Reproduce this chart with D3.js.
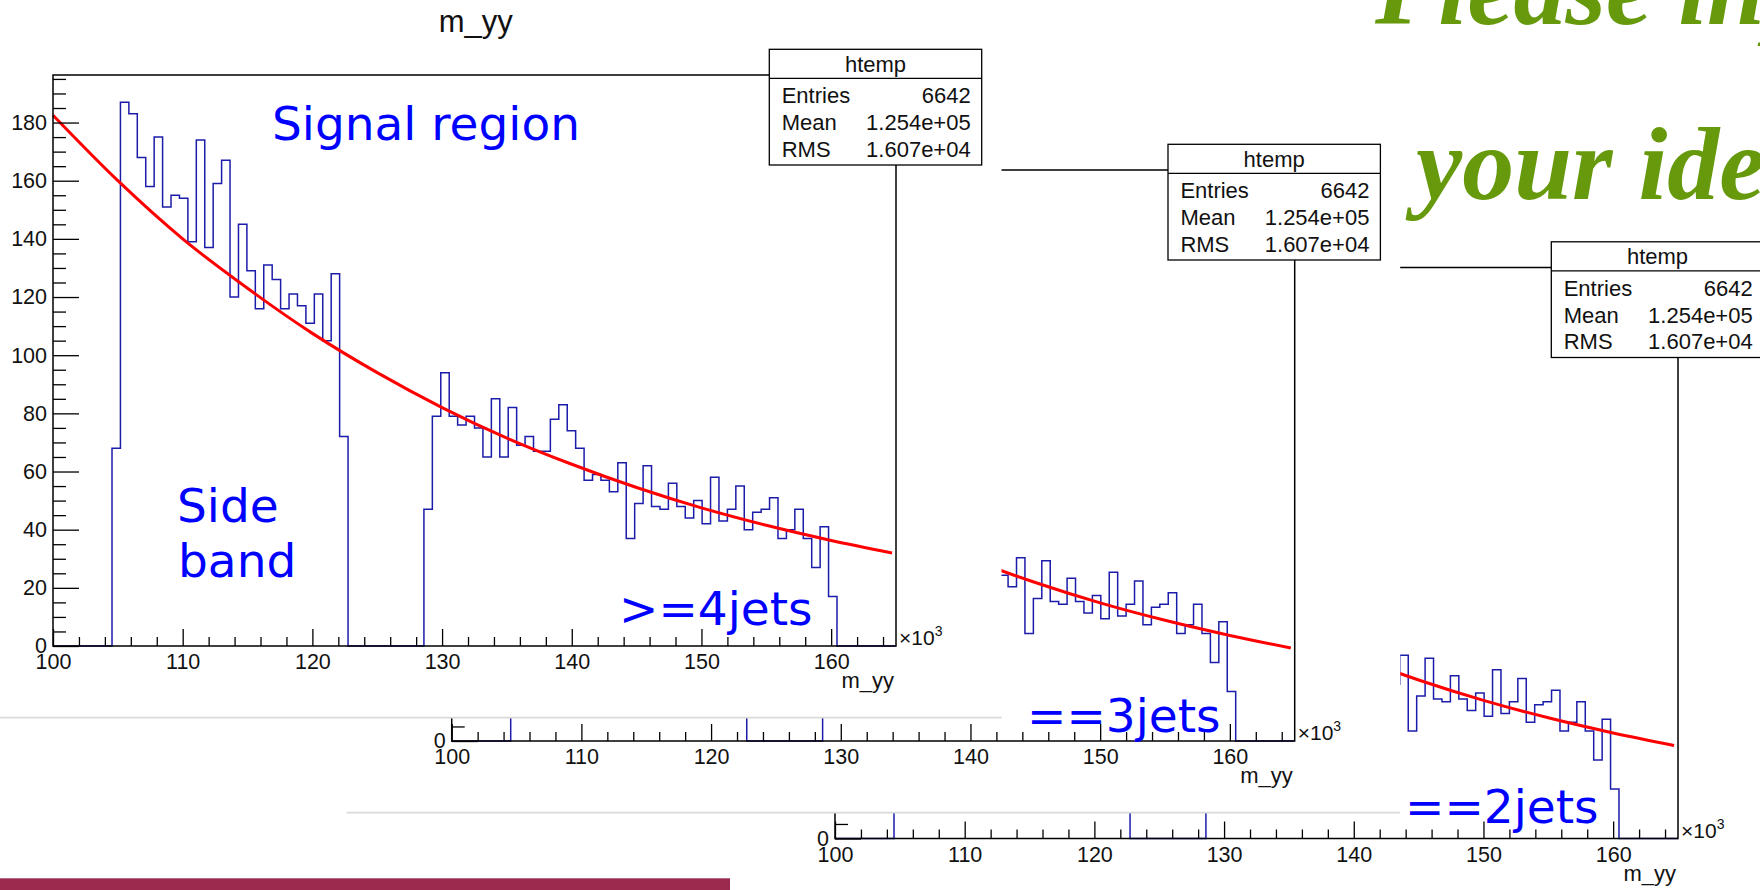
<!DOCTYPE html>
<html>
<head>
<meta charset="utf-8">
<script src="https://cdn.jsdelivr.net/npm/d3@7"></script>
<style>
  html, body { margin: 0; padding: 0; background: #fff; overflow: hidden; }
  svg { display: block; }
</style>
</head>
<body>
<svg id="slide" width="1760" height="890"></svg>
<script>
// ---- histogram "htemp" : m_yy in units of 10^3, 100 bins over [100, 165] ----
const axisRange = [100, 165];
const binCount = 100;
const binContents = [
  0, 0, 0, 0, 0, 0, 0,
  68, 187, 183, 168, 158, 175, 151, 155, 154, 139,
  174, 137, 159, 167, 120, 145, 129, 116, 131, 126,
  116, 121, 117, 111, 121, 105, 128, 72,
  0, 0, 0, 0, 0, 0, 0, 0, 0,
  47, 79, 94, 79, 76, 79, 75, 65, 85, 65,
  82, 69, 72, 67, 67, 78, 83, 74, 68, 57,
  59, 57, 53, 63, 37, 49, 62, 48, 47, 56,
  48, 44, 50, 42, 58, 43, 47, 55, 40, 46,
  47, 51, 37, 40, 47, 37, 27, 41, 17,
  0, 0, 0, 0, 0, 0, 0
];

// background fit curve, sampled along m_yy
const fitMass  = [100, 105, 110, 115, 120, 125, 130, 135, 140, 145, 150, 155, 160, 164.7];
const fitValue = [182.5, 160, 140, 123, 107.5, 94, 82, 71.5, 62.5, 54.5, 47.5, 41.5, 36.3, 32];

// axis ticks
const yMajorTicks = [0, 20, 40, 60, 80, 100, 120, 140, 160, 180];
const xMajorTicks = [100, 110, 120, 130, 140, 150, 160];

// statistics box
const histName = "htemp";
const statNames = ["Entries", "Mean", "RMS"];
const statValues = ["6642", "1.254e+05", "1.607e+04"];
const varName = "m_yy";

// slide annotations
const regionLabels = ["Signal region", "Side", "band"];
const jetLabels = [">=4jets", "==3jets", "==2jets"];
const headline = ["Please input", "your ideas"];

// ---------------------------------------------------------------------------
const svg = d3.select("#slide");
const rootFont = "'Liberation Sans', Arial, Helvetica, sans-serif";

// ROOT canvas geometry (frame occupies the central 80%)
const canvas = { x0: -52, y0: 3.6, w: 1053.5, h: 714 };
const frame = { left: 53, right: 896, top: 75, bottom: 646 };

const yMax = 1.05 * d3.max(binContents);
const x = d3.scaleLinear().domain(axisRange).range([frame.left, frame.right]);
const y = d3.scaleLinear().domain([0, yMax]).range([frame.bottom, frame.top]);
const binWidth = (axisRange[1] - axisRange[0]) / binCount;

// slide footer bar (partly hidden by the pasted plots)
svg.append("rect")
  .attr("x", 0).attr("y", 878.3).attr("width", 1760).attr("height", 12)
  .attr("fill", "#9b2a4e");

function drawPlot(g) {
  // canvas
  g.append("rect")
    .attr("x", canvas.x0).attr("y", canvas.y0)
    .attr("width", canvas.w).attr("height", canvas.h)
    .attr("fill", "#fff");
  g.append("line")
    .attr("x1", canvas.x0).attr("x2", canvas.x0 + canvas.w)
    .attr("y1", canvas.y0 + canvas.h).attr("y2", canvas.y0 + canvas.h)
    .attr("stroke", "#d9d9d9").attr("stroke-width", 1.6);

  // histogram outline
  const pts = [[axisRange[0], 0]];
  binContents.forEach((c, i) => {
    const lo = axisRange[0] + i * binWidth;
    pts.push([lo, c], [lo + binWidth, c]);
  });
  pts.push([axisRange[1], 0]);
  g.append("path")
    .attr("d", d3.line().x(d => x(d[0])).y(d => y(d[1]))(pts))
    .attr("fill", "none").attr("stroke", "#1c1caa").attr("stroke-width", 1.5);

  // fit
  g.append("path")
    .attr("d", d3.line().x(d => x(d)).y((d, i) => y(fitValue[i]))
      .curve(d3.curveMonotoneX)(fitMass))
    .attr("fill", "none").attr("stroke", "#ff0000").attr("stroke-width", 3);

  // axes (ticks drawn inside the frame, ROOT style)
  const yMinor = d3.range(0, yMax, 5).filter(v => v % 20 !== 0);
  const xMinor = d3.range(axisRange[0], axisRange[1], 2).filter(v => v % 10 !== 0);

  const yAx = g.append("g").attr("transform", `translate(${frame.left},0)`);
  yAx.call(d3.axisLeft(y).tickValues(yMajorTicks).tickSize(-26).tickPadding(6));
  yAx.append("g").call(d3.axisLeft(y).tickValues(yMinor).tickSize(-13).tickFormat(""));

  const xAx = g.append("g").attr("transform", `translate(0,${frame.bottom})`);
  xAx.call(d3.axisBottom(x).tickValues(xMajorTicks).tickSize(-17).tickPadding(8));
  xAx.append("g").call(d3.axisBottom(x).tickValues(xMinor).tickSize(-9).tickFormat(""));

  g.selectAll(".domain").remove();
  g.selectAll(".tick line").attr("stroke", "#000").attr("stroke-width", 1.3);
  g.selectAll(".tick text")
    .attr("font-family", rootFont).attr("font-size", 21.5).attr("fill", "#111");

  // frame
  g.append("rect")
    .attr("x", frame.left).attr("y", frame.top)
    .attr("width", frame.right - frame.left).attr("height", frame.bottom - frame.top)
    .attr("fill", "none").attr("stroke", "#000").attr("stroke-width", 1.5);

  // axis exponent and title
  const ex = g.append("text")
    .attr("x", frame.right + 3).attr("y", frame.bottom - 1)
    .attr("font-family", rootFont).attr("font-size", 21).attr("fill", "#111");
  ex.append("tspan").text("\u00d710");
  ex.append("tspan").attr("dy", -9).attr("font-size", 14).text("3");

  g.append("text")
    .attr("x", frame.right - 2).attr("y", frame.bottom + 42.3)
    .attr("text-anchor", "end")
    .attr("font-family", rootFont).attr("font-size", 22).attr("fill", "#111")
    .text(varName);

  // histogram title
  g.append("text")
    .attr("x", canvas.x0 + canvas.w / 2 + 1).attr("y", 32)
    .attr("text-anchor", "middle")
    .attr("font-family", rootFont).attr("font-size", 31).attr("fill", "#111")
    .text(varName);

  // statistics box
  const box = { x: 769.3, y: 49.3, w: 212.4, h: 115.7, head: 29 };
  g.append("rect")
    .attr("x", box.x).attr("y", box.y).attr("width", box.w).attr("height", box.h)
    .attr("fill", "#fff").attr("stroke", "#000").attr("stroke-width", 1.3);
  g.append("line")
    .attr("x1", box.x).attr("x2", box.x + box.w)
    .attr("y1", box.y + box.head).attr("y2", box.y + box.head)
    .attr("stroke", "#000").attr("stroke-width", 1.3);
  g.append("text")
    .attr("x", box.x + box.w / 2).attr("y", 71.7)
    .attr("text-anchor", "middle")
    .attr("font-family", rootFont).attr("font-size", 22).attr("fill", "#111")
    .text(histName);
  statNames.forEach((name, i) => {
    const by = 103.3 + i * 26.7;
    g.append("text")
      .attr("x", box.x + 12.4).attr("y", by)
      .attr("font-family", rootFont).attr("font-size", 22).attr("fill", "#111")
      .text(name);
    g.append("text")
      .attr("x", box.x + box.w - 11).attr("y", by)
      .attr("text-anchor", "end")
      .attr("font-family", rootFont).attr("font-size", 22).attr("fill", "#111")
      .text(statValues[i]);
  });
}

// three copies of the plot, stacked on the slide (back to front)
const placements = [
  { dx: 782, dy: 192.5 },
  { dx: 398.7, dy: 95 },
  { dx: 0, dy: 0 }
];
placements.forEach(p => {
  drawPlot(svg.append("g").attr("transform", `translate(${p.dx},${p.dy})`));
});

// slide annotations in blue
const blueFont = "'DejaVu Sans', sans-serif";
const blueText = [
  { t: regionLabels[0], x: 272, y: 139.5 },
  { t: regionLabels[1], x: 177, y: 521.7 },
  { t: regionLabels[2], x: 178, y: 576.7 },
  { t: jetLabels[0], x: 619, y: 625 },
  { t: jetLabels[1], x: 1027, y: 731.5 },
  { t: jetLabels[2], x: 1405, y: 822.5 }
];
svg.selectAll("text.note").data(blueText).join("text")
  .attr("class", "note")
  .attr("x", d => d.x).attr("y", d => d.y)
  .attr("font-family", blueFont).attr("font-size", 47).attr("fill", "#0000ff")
  .text(d => d.t);

// green headline (runs off the slide edge)
const headPos = [{ x: 1375, y: 24 }, { x: 1416, y: 199 }];
svg.selectAll("text.head").data(headline).join("text")
  .attr("class", "head")
  .attr("x", (d, i) => headPos[i].x).attr("y", (d, i) => headPos[i].y)
  .attr("font-family", "'Liberation Serif', 'DejaVu Serif', serif")
  .attr("font-style", "italic").attr("font-weight", "bold")
  .attr("font-size", 104).attr("fill", "#669a0c")
  .text(d => d);
</script>
</body>
</html>
